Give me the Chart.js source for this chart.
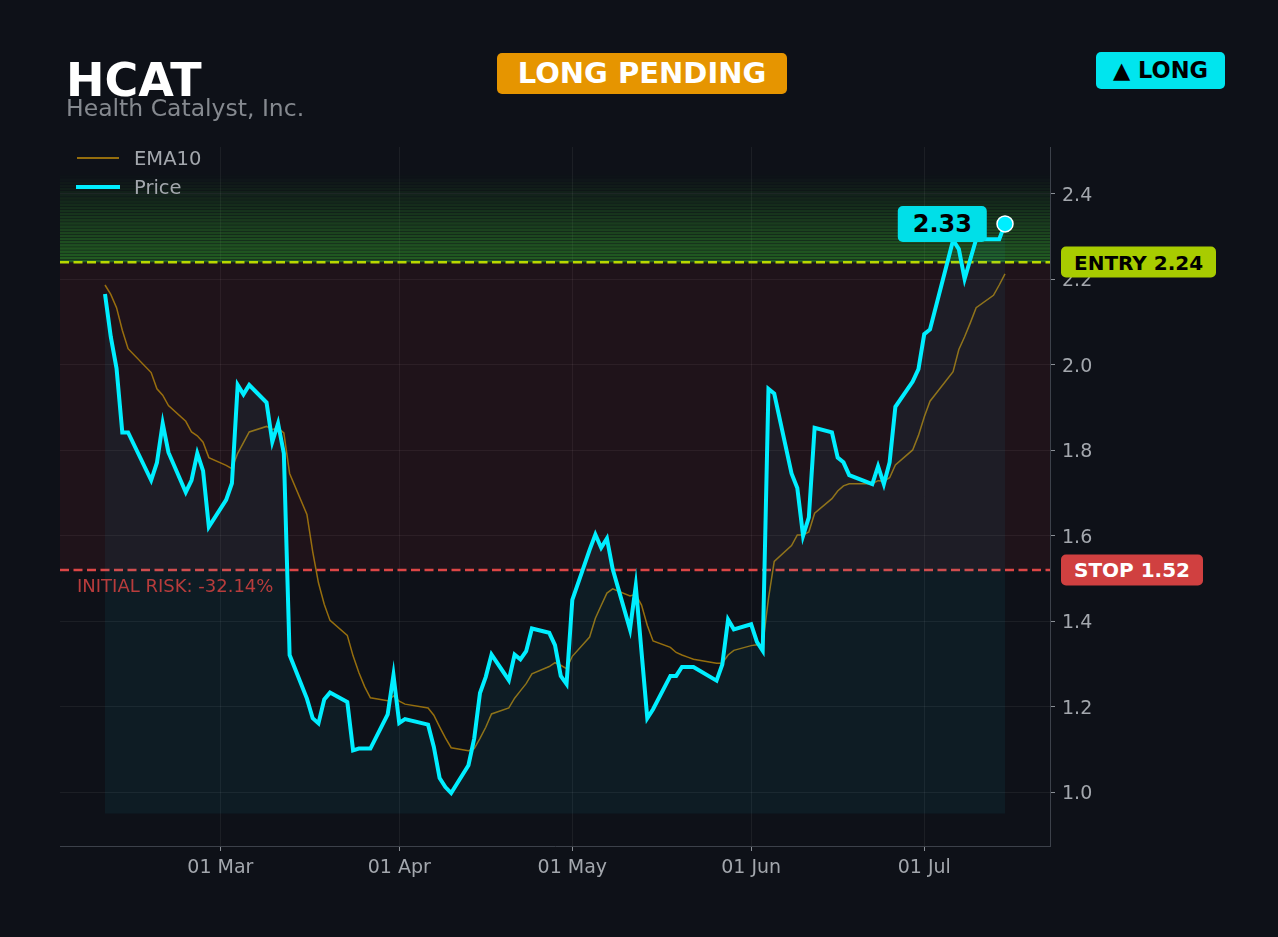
<!DOCTYPE html>
<html lang="en">
<head>
<meta charset="UTF-8">
<title>HCAT - Health Catalyst, Inc.</title>
<style>
  html, body { margin: 0; padding: 0; background: #0e1118; }
  body { width: 1278px; height: 937px; position: relative; overflow: hidden; font-family: "DejaVu Sans", sans-serif; }
  #chart { position: absolute; left: 0; top: 0; }
  .abs { position: absolute; white-space: nowrap; line-height: 1; }
  .box { position: absolute; display: flex; align-items: center; justify-content: center; border-radius: 5px; font-weight: bold; white-space: nowrap; line-height: 1; }
  #ticker { left: 66px; top: 57px; font-size: 46px; font-weight: bold; color: #ffffff; }
  #company { left: 66px; top: 97px; font-size: 23.5px; color: #85898f; }
  #status { left: 497px; top: 53px; width: 290px; height: 41px; background: #e69500; color: #ffffff; font-size: 29px; }
  #side { left: 1096px; top: 52px; width: 129px; height: 37px; background: #00e5ee; color: #000000; font-size: 22.5px; }
  .legLine { position: absolute; }
  .legText { font-size: 19.5px; color: #a3a7ad; }
  .tag { padding: 0 13px; font-size: 20px; }
  #entryTag { background: #a8cc00; color: #000; height: 31px; }
  #stopTag { background: #d04040; color: #fff; height: 31px; }
  #lastTag { background: #00dfe8; color: #000; height: 36px; padding: 0 15px; font-size: 24px; }
  #riskText { font-size: 18px; color: #b83c3c; }
</style>
</head>
<body>
<canvas id="chart" width="1278" height="937"></canvas>

<div class="abs" id="ticker">HCAT</div>
<div class="abs" id="company">Health Catalyst, Inc.</div>
<div class="box" id="status">LONG PENDING</div>
<div class="box" id="side">▲ LONG</div>

<div class="legLine" style="left:77px;top:157px;width:42px;height:2px;background:rgba(184,134,11,0.8);"></div>
<div class="abs legText" style="left:134px;top:149px;">EMA10</div>
<div class="legLine" style="left:76px;top:185px;width:44px;height:4px;background:#00eeff;"></div>
<div class="abs legText" style="left:134px;top:178px;">Price</div>

<div class="box tag" id="entryTag"></div>
<div class="box tag" id="stopTag"></div>
<div class="box" id="lastTag"></div>
<div class="abs" id="riskText"></div>

<script src="https://cdn.jsdelivr.net/npm/chart.js@4.4.1/dist/chart.umd.min.js"></script>
<script>
// trading days shown on the chart
const dates = [
  '2026-02-09','2026-02-10','2026-02-11','2026-02-12','2026-02-13','2026-02-17','2026-02-18','2026-02-19','2026-02-20',
  '2026-02-23','2026-02-24','2026-02-25','2026-02-26','2026-02-27',
  '2026-03-02','2026-03-03','2026-03-04','2026-03-05','2026-03-06','2026-03-09','2026-03-10','2026-03-11','2026-03-12','2026-03-13',
  '2026-03-16','2026-03-17','2026-03-18','2026-03-19','2026-03-20','2026-03-23','2026-03-24','2026-03-25','2026-03-26','2026-03-27',
  '2026-03-30','2026-03-31',
  '2026-04-01','2026-04-02','2026-04-06','2026-04-07','2026-04-08','2026-04-09','2026-04-10','2026-04-13','2026-04-14','2026-04-15',
  '2026-04-16','2026-04-17','2026-04-20','2026-04-21','2026-04-22','2026-04-23','2026-04-24','2026-04-27','2026-04-28','2026-04-29','2026-04-30',
  '2026-05-01','2026-05-04','2026-05-05','2026-05-06','2026-05-07','2026-05-08','2026-05-11','2026-05-12','2026-05-13','2026-05-14','2026-05-15',
  '2026-05-18','2026-05-19','2026-05-20','2026-05-21','2026-05-22','2026-05-26','2026-05-27','2026-05-28','2026-05-29',
  '2026-06-01','2026-06-02','2026-06-03','2026-06-04','2026-06-05','2026-06-08','2026-06-09','2026-06-10','2026-06-11','2026-06-12',
  '2026-06-15','2026-06-16','2026-06-17','2026-06-18','2026-06-22','2026-06-23','2026-06-24','2026-06-25','2026-06-26','2026-06-29','2026-06-30',
  '2026-07-01','2026-07-02','2026-07-06','2026-07-07','2026-07-08','2026-07-09','2026-07-10','2026-07-13','2026-07-14','2026-07-15'
];

const price = [
  2.166, 2.066, 1.992, 1.842, 1.842, 1.730, 1.771, 1.863, 1.795, 1.702, 1.730, 1.793, 1.752, 1.621,
  1.684, 1.723, 1.953, 1.931, 1.953, 1.912, 1.820, 1.863, 1.793, 1.321, 1.219, 1.173, 1.161, 1.217, 1.233,
  1.211, 1.098, 1.102, 1.102, 1.102, 1.182, 1.274,
  1.162, 1.171, 1.158, 1.106, 1.033, 1.012, 0.998, 1.063, 1.126, 1.232, 1.270, 1.322, 1.262, 1.322, 1.311,
  1.330, 1.383, 1.373, 1.344, 1.272, 1.253,
  1.450, 1.567, 1.603, 1.572, 1.594, 1.522, 1.381, 1.483, 1.328, 1.173, 1.194, 1.272, 1.272, 1.293, 1.293,
  1.293, 1.261, 1.299, 1.404, 1.381,
  1.393, 1.352, 1.331, 1.944, 1.933, 1.746, 1.712, 1.600, 1.643, 1.853, 1.842, 1.783, 1.772, 1.742,
  1.721, 1.763, 1.721, 1.772, 1.902, 1.961, 1.990,
  2.072, 2.083, 2.292, 2.271, 2.201, 2.248, 2.294, 2.294, 2.294, 2.330
];

const ema10 = [
  2.187, 2.165, 2.134, 2.081, 2.038, 1.982, 1.944, 1.929, 1.905, 1.868, 1.843, 1.834, 1.819, 1.783,
  1.765, 1.757, 1.793, 1.818, 1.843, 1.856, 1.849, 1.852, 1.841, 1.746, 1.650, 1.563, 1.490, 1.440, 1.402,
  1.367, 1.319, 1.280, 1.247, 1.221, 1.214, 1.225,
  1.213, 1.206, 1.197, 1.180, 1.153, 1.127, 1.104, 1.097, 1.102, 1.126, 1.152, 1.183, 1.197, 1.220, 1.237,
  1.254, 1.277, 1.294, 1.303, 1.297, 1.289,
  1.318, 1.363, 1.407, 1.437, 1.466, 1.476, 1.459, 1.463, 1.438, 1.390, 1.354, 1.339, 1.327, 1.321, 1.316,
  1.311, 1.302, 1.302, 1.321, 1.332,
  1.343, 1.345, 1.344, 1.453, 1.540, 1.577, 1.602, 1.602, 1.609, 1.653, 1.687, 1.705, 1.717, 1.722,
  1.722, 1.729, 1.728, 1.736, 1.766, 1.801, 1.835,
  1.878, 1.915, 1.984, 2.036, 2.066, 2.099, 2.134, 2.163, 2.187, 2.213
];

const entryPrice = 2.24;
const stopPrice = 1.52;
const targetTop = 2.445;   // top of the green zone
const fillBase = 0.95;

const yTicks = [1.0, 1.2, 1.4, 1.6, 1.8, 2.0, 2.2, 2.4];
const xTickDates = ['2026-03-01', '2026-04-01', '2026-05-01', '2026-06-01', '2026-07-01'];
const xTickLabels = ['01 Mar', '01 Apr', '01 May', '01 Jun', '01 Jul'];

const yMin = 0.874, yMax = 2.51;

// day number since 1 Jan
function dayNum(s) {
  return (Date.parse(s + 'T00:00:00Z') - Date.UTC(2026, 0, 1)) / 86400000;
}

const days = dates.map(dayNum);
const xTickDays = xTickDates.map(dayNum);
const span = days[days.length - 1] - days[0];
const xMin = days[0] - span * 0.05;
const xMax = days[days.length - 1] + span * 0.05;

const pricePts = days.map((d, i) => ({ x: d, y: price[i] }));
const emaPts = days.map((d, i) => ({ x: d, y: ema10[i] }));
const last = price.length - 1;

const zones = {
  id: 'zones',
  beforeDatasetsDraw(chart) {
    const { ctx, chartArea: a, scales: { y } } = chart;
    const yE = y.getPixelForValue(entryPrice);
    const yS = y.getPixelForValue(stopPrice);
    const yT = y.getPixelForValue(targetTop);
    const w = a.right - a.left;
    ctx.save();
    // risk zone
    ctx.fillStyle = 'rgba(220,50,60,0.085)';
    ctx.fillRect(a.left, yE, w, yS - yE);
    // target zone, fading upwards in bands
    const n = 28;
    for (let i = 0; i < n; i++) {
      const y0 = yE - (yE - yT) * i / n;
      const y1 = yE - (yE - yT) * (i + 1) / n;
      ctx.fillStyle = 'rgba(55,170,45,' + (0.5 * (1 - i / n)).toFixed(3) + ')';
      ctx.fillRect(a.left, y1 + 0.45, w, y0 - y1 - 0.45);
    }
    // entry / stop lines
    ctx.lineWidth = 2.5;
    ctx.setLineDash([9, 4.5]);
    ctx.strokeStyle = '#b8d800';
    ctx.beginPath(); ctx.moveTo(a.left, yE); ctx.lineTo(a.right, yE); ctx.stroke();
    ctx.strokeStyle = '#dc4646';
    ctx.beginPath(); ctx.moveTo(a.left, yS); ctx.lineTo(a.right, yS); ctx.stroke();
    ctx.restore();
  }
};

const gridColor = 'rgba(255,255,255,0.06)';
const tickFont = { family: 'DejaVu Sans', size: 19 };

const chart = new Chart(document.getElementById('chart').getContext('2d'), {
  type: 'line',
  data: {
    datasets: [
      {
        label: 'Price',
        data: pricePts,
        borderColor: '#00eeff',
        borderWidth: 4,
        backgroundColor: 'rgba(20,205,235,0.06)',
        fill: { value: fillBase },
        tension: 0,
        pointRadius: ctx => ctx.dataIndex === last ? 8 : 0,
        pointBackgroundColor: '#00eeff',
        pointBorderColor: '#ffffff',
        pointBorderWidth: 1.5,
        order: 0
      },
      {
        label: 'EMA10',
        data: emaPts,
        borderColor: 'rgba(184,134,11,0.8)',
        borderWidth: 1.5,
        fill: false,
        tension: 0,
        pointRadius: 0,
        order: 1
      }
    ]
  },
  options: {
    responsive: false,
    animation: false,
    devicePixelRatio: 1,
    layout: { padding: { left: 60, top: 147, right: 0, bottom: 0 } },
    plugins: { legend: { display: false }, tooltip: { enabled: false } },
    scales: {
      x: {
        type: 'linear',
        min: xMin,
        max: xMax,
        grid: { color: gridColor, tickColor: '#8a8f96', tickLength: 5 },
        border: { display: true, color: '#3c414a', width: 1 },
        ticks: {
          color: '#a3a7ad', font: tickFont, padding: 6, maxRotation: 0, autoSkip: false,
          callback: (v, i) => xTickLabels[i]
        },
        afterBuildTicks: s => { s.ticks = xTickDays.map(v => ({ value: v })); },
        afterFit: s => { s.height = 91; }
      },
      y: {
        position: 'right',
        min: yMin,
        max: yMax,
        grid: { color: gridColor, tickColor: '#8a8f96', tickLength: 5 },
        border: { display: true, color: '#3c414a', width: 1 },
        ticks: { color: '#a3a7ad', font: tickFont, padding: 7, labelOffset: 2, callback: v => v.toFixed(1) },
        afterBuildTicks: s => { s.ticks = yTicks.map(v => ({ value: v })); },
        afterFit: s => { s.width = 228; }
      }
    }
  },
  plugins: [zones]
});

// labels tied to the scales
const area = chart.chartArea;
const ys = chart.scales.y, xs = chart.scales.x;

function put(id, text, left, top, transform) {
  const el = document.getElementById(id);
  el.textContent = text;
  el.style.left = left + 'px';
  el.style.top = top + 'px';
  if (transform) el.style.transform = transform;
}

put('entryTag', 'ENTRY ' + entryPrice.toFixed(2), area.right + 11, ys.getPixelForValue(entryPrice), 'translateY(-50%)');
put('stopTag', 'STOP ' + stopPrice.toFixed(2), area.right + 11, ys.getPixelForValue(stopPrice), 'translateY(-50%)');
put('lastTag', price[last].toFixed(2), xs.getPixelForValue(days[last]) - 18, ys.getPixelForValue(price[last]), 'translate(-100%,-50%)');
put('riskText', 'INITIAL RISK: ' + ((stopPrice - entryPrice) / entryPrice * 100).toFixed(2) + '%',
    area.left + 17, ys.getPixelForValue(stopPrice) + 7);
</script>
</body>
</html>
